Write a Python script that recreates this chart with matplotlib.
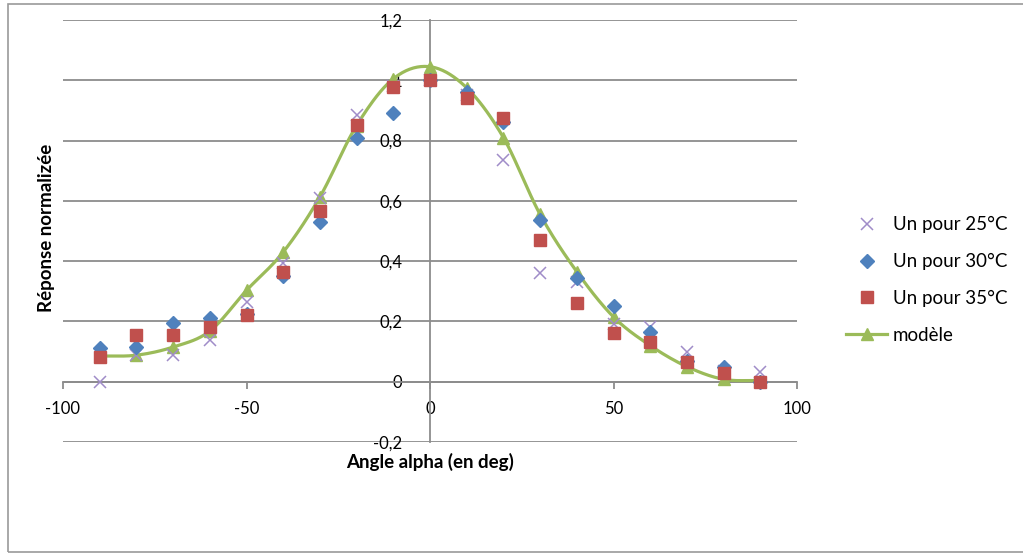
import numpy as np
import matplotlib
matplotlib.use("Agg")
import matplotlib.pyplot as plt
from matplotlib.ticker import FuncFormatter, MultipleLocator
from matplotlib.patches import Rectangle

plt.rcParams['font.family'] = ['Lato', 'DejaVu Sans']
plt.rcParams['axes.unicode_minus'] = False

# angles (deg)
angles = [-90, -80, -70, -60, -50, -40, -30, -20, -10, 0, 10, 20, 30, 40, 50, 60, 70, 80, 90]

# normalized responses
un_25 = [0.0, 0.09, 0.09, 0.14, 0.265, 0.395, 0.61, 0.885, 0.98, 1.0, 0.95, 0.735, 0.36, 0.33, 0.19, 0.18, 0.1, 0.035, 0.033]
un_30 = [0.113, 0.116, 0.195, 0.21, 0.225, 0.35, 0.53, 0.81, 0.89, 1.0, 0.96, 0.862, 0.537, 0.345, 0.25, 0.166, 0.07, 0.05, 0.0]
un_35 = [0.083, 0.156, 0.156, 0.18, 0.22, 0.365, 0.565, 0.852, 0.978, 1.0, 0.94, 0.875, 0.47, 0.262, 0.162, 0.133, 0.067, 0.03, 0.0]
modele = [0.085, 0.088, 0.115, 0.168, 0.303, 0.43, 0.613, 0.85, 1.005, 1.045, 0.975, 0.81, 0.555, 0.365, 0.215, 0.12, 0.05, 0.008, 0.004]

labels = ["Un pour 25°C", "Un pour 30°C", "Un pour 35°C", "modèle"]
GRID = "#8c8c8c"


# smoothed line through the points, like Excel's "smoothed line"
def smooth(xs, ys, n=20):
    x = np.asarray(xs, float)
    y = np.asarray(ys, float)
    xp = np.concatenate([[2 * x[0] - x[1]], x, [2 * x[-1] - x[-2]]])
    yp = np.concatenate([[2 * y[0] - y[1]], y, [2 * y[-1] - y[-2]]])
    t = np.linspace(0, 1, n, endpoint=False)
    out_x, out_y = [], []
    for i in range(1, len(xp) - 2):
        for p, out in ((xp, out_x), (yp, out_y)):
            p0, p1, p2, p3 = p[i - 1], p[i], p[i + 1], p[i + 2]
            out.extend(0.5 * (2 * p1 + (-p0 + p2) * t + (2 * p0 - 5 * p1 + 4 * p2 - p3) * t ** 2
                              + (-p0 + 3 * p1 - 3 * p2 + p3) * t ** 3))
    out_x.append(x[-1])
    out_y.append(y[-1])
    return out_x, out_y


def fmt(v, pos):
    v = round(v, 1)
    if abs(v) < 1e-9:
        return "0"
    return f"{v:g}".replace(".", ",")


fig = plt.figure(figsize=(10.23, 5.54), dpi=100)
ax = fig.add_axes([63 / 1023, 1 - 442 / 554, (797 - 63) / 1023, (442 - 20) / 554])

sx, sy = smooth(angles, modele)
ax.plot(sx, sy, color="#9BBB59", lw=2.3, zorder=3)
ax.plot(angles, modele, ls="none", marker="^", ms=9, color="#9BBB59", zorder=3)
ax.plot(angles, un_25, ls="none", marker="x", ms=9, mew=1.1, color="#A08CC8", zorder=4)
ax.plot(angles, un_30, ls="none", marker="D", ms=7, color="#4F81BD", zorder=5)
ax.plot(angles, un_35, ls="none", marker="s", ms=9, color="#C0504D", zorder=6)

ax.set_xlim(-100, 100)
ax.set_ylim(-0.2, 1.2)
ax.xaxis.set_major_locator(MultipleLocator(50))
ax.yaxis.set_major_locator(MultipleLocator(0.2))
ax.yaxis.set_major_formatter(FuncFormatter(fmt))

ax.yaxis.grid(True, color=GRID, lw=1.3)
ax.set_axisbelow(True)
for s in ("top", "right"):
    ax.spines[s].set_visible(False)
ax.spines["left"].set_position(("data", 0))
ax.spines["bottom"].set_position(("data", 0))
for s in ("left", "bottom"):
    ax.spines[s].set_color(GRID)
    ax.spines[s].set_linewidth(1.3)
ax.tick_params(axis="x", direction="out", length=5, color=GRID, width=1.3, pad=9, labelsize=12)
ax.tick_params(axis="y", length=0, pad=20, labelsize=12)

ax.text(0.5, -0.047, "Angle alpha (en deg)", transform=ax.transAxes, ha="center", va="center",
        fontsize=13.5, fontweight="bold")
fig.text(47 / 1023, 1 - 228 / 554, "Réponse normalizée", rotation=90, ha="center", va="center",
         fontsize=13.5, fontweight="bold")

handles = ax.get_lines()
leg = fig.legend([handles[2], handles[3], handles[4], (handles[0], handles[1])], labels,
                 loc="center left", bbox_to_anchor=(846 / 1023, 1 - 280 / 554), frameon=False,
                 fontsize=13.5, labelspacing=1.05, handlelength=2.2, handletextpad=0.3,
                 borderpad=0, borderaxespad=0, numpoints=1)

fig.patches.append(Rectangle((8 / 1023, 2 / 554), 1.2, 548 / 554, transform=fig.transFigure,
                             fill=False, edgecolor="#9a9a9a", lw=1.2))

fig.savefig("out.png", dpi=100)
